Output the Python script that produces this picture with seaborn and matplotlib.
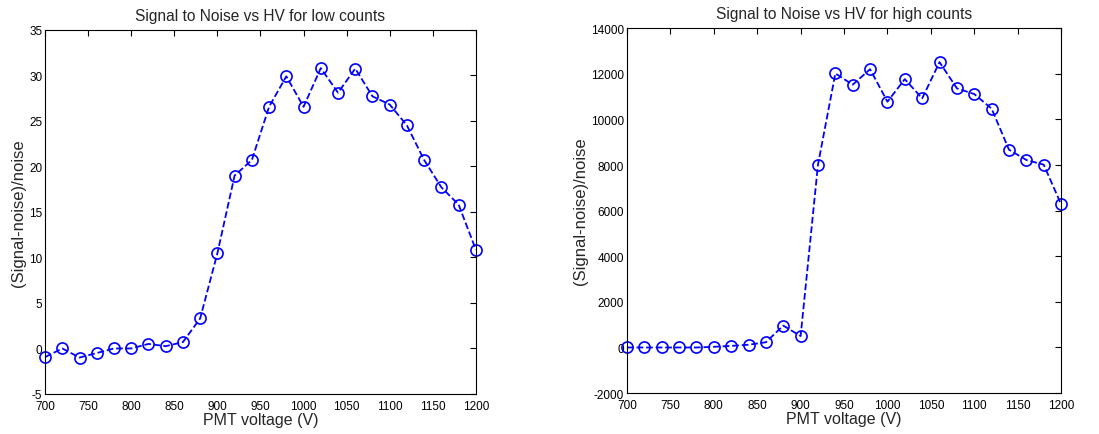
import matplotlib
matplotlib.use("Agg")
import matplotlib.pyplot as plt
import seaborn as sns
import numpy as np

voltage = [700, 720, 740, 760, 780, 800, 820, 840, 860, 880, 900, 920, 940,
           960, 980, 1000, 1020, 1040, 1060, 1080, 1100, 1120, 1140, 1160, 1180, 1200]
snr_low = [-0.95, 0.0, -1.0, -0.5, 0.0, 0.0, 0.5, 0.25, 0.7, 3.3, 10.45, 19.0, 20.7,
           26.55, 29.9, 26.55, 30.8, 28.1, 30.75, 27.7, 26.8, 24.5, 20.7, 17.7, 15.8, 10.85]
snr_high = [0, 0, 0, 0, 0, 30, 70, 120, 230, 960, 500, 8015, 12015,
            11520, 12200, 10775, 11765, 10920, 12510, 11360, 11110, 10470, 8670, 8220, 8015, 6280]

titles = ["Signal to Noise vs HV for low counts", "Signal to Noise vs HV for high counts"]
xlabel = "PMT voltage (V)"
ylabel = "(Signal-noise)/noise"
xticks = list(range(700, 1201, 50))
yticks_low = list(range(-5, 36, 5))
yticks_high = list(range(-2000, 14001, 2000))

sns.set_style("white")
plt.rcParams['font.family'] = ['Liberation Sans', 'DejaVu Sans']

fig = plt.figure(figsize=(10.99, 4.35), dpi=100)
ax1 = fig.add_axes([0.041, 0.092, 0.392, 0.837])
ax2 = fig.add_axes([0.5705, 0.094, 0.395, 0.839])

for ax, y, title, yt in [(ax1, snr_low, titles[0], yticks_low),
                         (ax2, snr_high, titles[1], yticks_high)]:
    sns.lineplot(x=voltage, y=y, ax=ax, color=(0, 0, 1), linestyle='--',
                 linewidth=1.3, marker='o', markersize=8, markerfacecolor='none',
                 markeredgecolor=(0, 0, 1), markeredgewidth=1.2, clip_on=False)
    ax.set_xlim(700, 1200)
    ax.set_ylim(yt[0], yt[-1])
    ax.set_xticks(xticks)
    ax.set_yticks(yt)
    ax.set_xticklabels([str(v) for v in xticks])
    ax.set_yticklabels([str(v) for v in yt])
    ax.tick_params(direction='in', top=True, right=True, length=4, width=0.8,
                   labelsize=8.5, colors='black')
    ax.tick_params(axis='x', pad=4)
    ax.tick_params(axis='y', pad=2)
    for s in ax.spines.values():
        s.set_color('black')
        s.set_linewidth(0.8)
    ax.set_title(title, fontsize=11.2, pad=7)
    ax.set_xlabel(xlabel, fontsize=11.5, labelpad=0)
    ax.set_ylabel(ylabel, fontsize=12, labelpad=2)

fig.savefig("out.png", dpi=100)
